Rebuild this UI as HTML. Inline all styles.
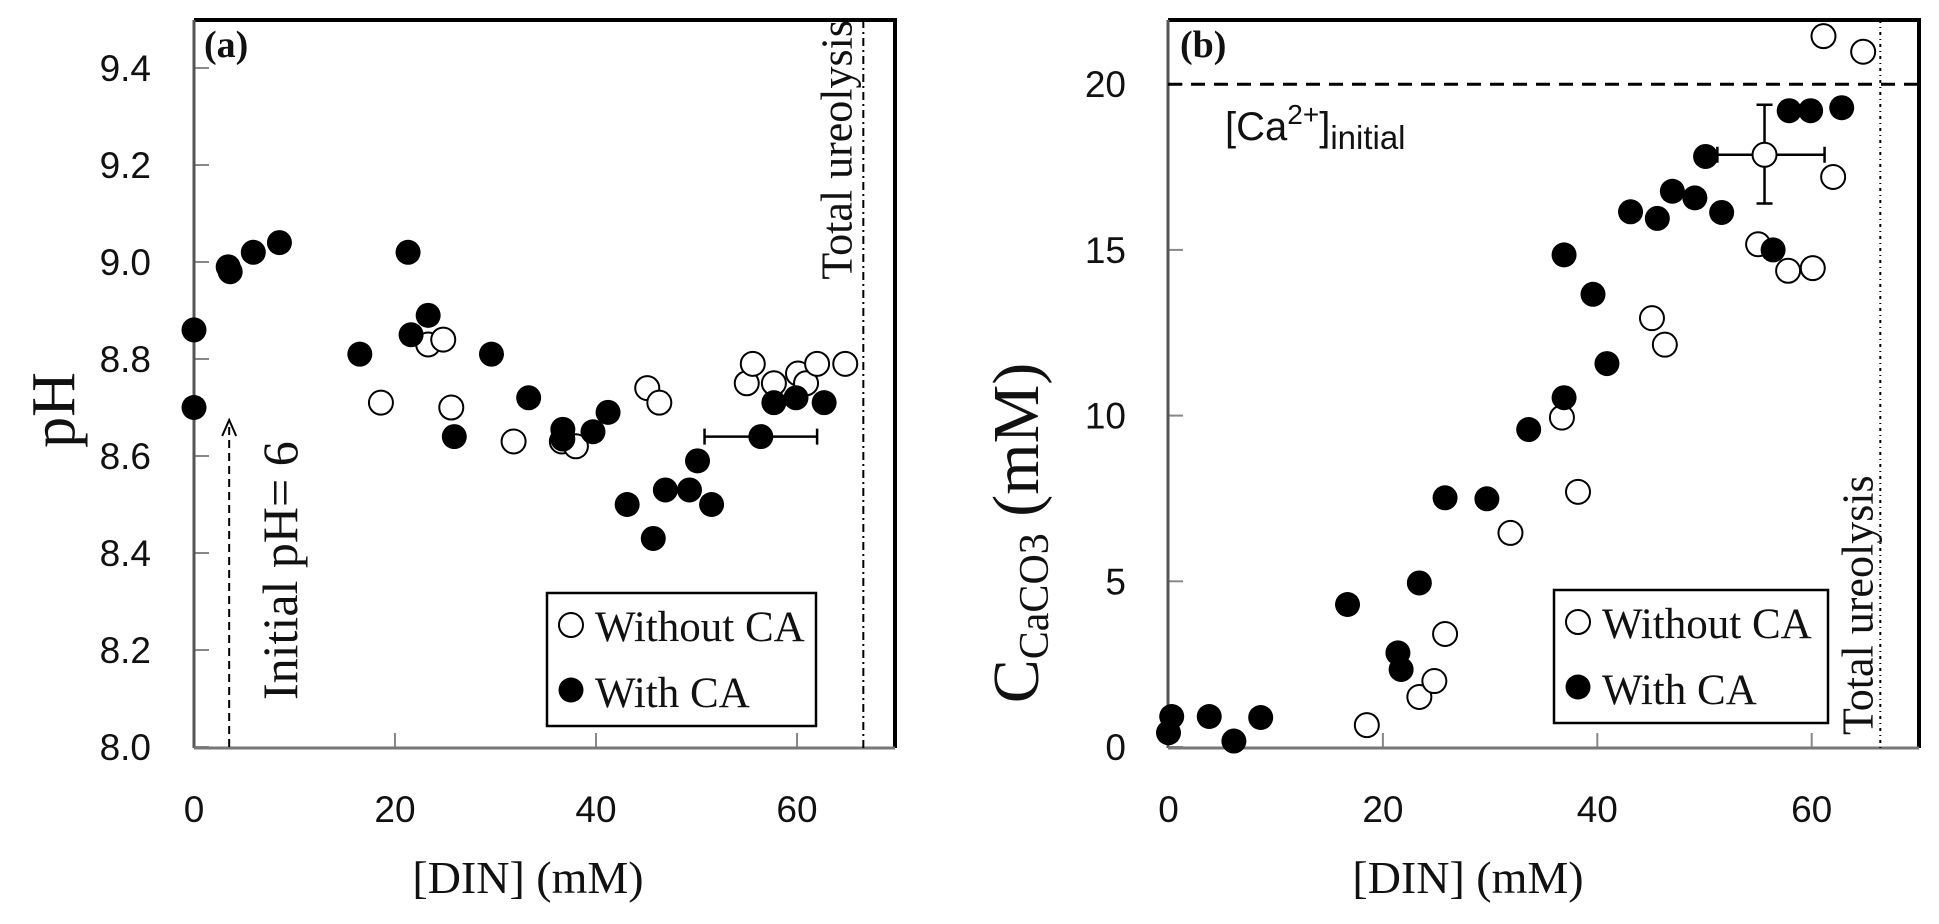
<!DOCTYPE html>
<html><head><meta charset="utf-8">
<style>
html,body{margin:0;padding:0;background:#fff;}
svg{display:block;}
.tick{font-family:"Liberation Sans",sans-serif;font-size:37px;fill:#111;}
.serif{font-family:"Liberation Serif",serif;fill:#111;}
</style></head>
<body>
<svg id="chart" width="1939" height="924" viewBox="0 0 1939 924" xmlns="http://www.w3.org/2000/svg">
<g id="pa"></g>
<g id="pb"></g>
</svg>
<script>
// Panel (a) data: pH vs DIN
const aWithX = [0,0,3.4,3.6,5.9,8.5,16.5,21.3,21.6,23.3,25.9,29.6,33.3,36.7,36.7,39.7,41.2,43.1,45.7,46.9,49.3,50.1,51.5,56.4,57.7,59.9,62.7];
const aWithY = [8.70,8.86,8.99,8.98,9.02,9.04,8.81,9.02,8.85,8.89,8.64,8.81,8.72,8.655,8.635,8.65,8.69,8.50,8.43,8.53,8.53,8.59,8.50,8.64,8.71,8.72,8.71];
const aWithoutX = [18.6,23.3,24.8,25.6,31.8,36.6,38.0,45.1,46.3,55.0,55.6,57.7,60.1,60.9,62.0,64.8];
const aWithoutY = [8.71,8.83,8.84,8.70,8.63,8.63,8.62,8.74,8.71,8.75,8.79,8.75,8.77,8.75,8.79,8.79];
const aXTicks = [0,20,40,60];
const aYTicks = [8.0,8.2,8.4,8.6,8.8,9.0,9.2,9.4];
const aErr = [50.8,62.0,8.64];
// Panel (b) data: CaCO3 vs DIN
const bWithX = [0,0.3,3.8,6.1,8.6,16.7,21.4,21.7,23.4,25.8,29.7,33.6,36.9,36.9,39.6,40.9,43.1,45.6,47.0,49.1,50.1,51.6,56.4,57.9,59.9,62.8];
const bWithY = [0.43,0.92,0.92,0.18,0.89,4.3,2.84,2.34,4.95,7.52,7.49,9.58,14.85,10.54,13.66,11.57,16.15,15.95,16.77,16.57,17.82,16.13,15.0,19.2,19.2,19.29];
const bWithoutX = [18.5,23.4,24.8,25.8,31.9,36.7,38.2,45.1,46.3,55.0,55.6,57.8,60.1,61.1,62.0,64.8];
const bWithoutY = [0.66,1.51,1.99,3.41,6.46,9.94,7.70,12.94,12.14,15.17,17.87,14.37,14.45,21.45,17.2,20.98];
const bXTicks = [0,20,40,60];
const bYTicks = [0,5,10,15,20];
const bErrX = [51.2,61.2,55.6,17.87];
const bErrY = [16.40,19.38];

const NS="http://www.w3.org/2000/svg";
function mk(parent,tag,attrs,text){const e=document.createElementNS(NS,tag);for(const k in attrs)e.setAttribute(k,attrs[k]);if(text!==undefined)e.textContent=text;parent.appendChild(e);return e;}

// ---- Panel A ----
const pa=document.getElementById('pa');
const ax=v=>194+v*10.05, ay=v=>747-(v-8)/0.2*97;
aYTicks.forEach(t=>{
  const l=mk(pa,'line',{x1:194,x2:209,y1:ay(t),y2:ay(t),stroke:'#888','stroke-width':2});
  
  const tx=mk(pa,'text',{x:151,y:ay(t)+13,'text-anchor':'end',class:'tick'},t.toFixed(1));
  
});
aXTicks.forEach(t=>{
  const l=mk(pa,'line',{x1:ax(t),x2:ax(t),y1:747,y2:733,stroke:'#888','stroke-width':2});
  
  const tx=mk(pa,'text',{x:ax(t),y:822,'text-anchor':'middle',class:'tick'},String(t));
  
});
let e;
e=mk(pa,'path',{d:'M194,20 L895,20 L895,748',fill:'none',stroke:'#000','stroke-width':4});
e=mk(pa,'line',{x1:194,y1:20,x2:194,y2:748,stroke:'#555','stroke-width':3});
e=mk(pa,'line',{x1:194,y1:748,x2:895,y2:748,stroke:'#777','stroke-width':3});
e=mk(pa,'line',{x1:ax(66.6),y1:20,x2:ax(66.6),y2:748,stroke:'#000','stroke-width':2,'stroke-dasharray':'8,4,2,4'});
e=mk(pa,'text',{x:0,y:0,class:'serif','font-size':44,transform:`translate(${ax(66.6)-12},20) rotate(-90)`,'text-anchor':'end'},'Total ureolysis');
e=mk(pa,'text',{x:204,y:57,class:'serif','font-size':38,'font-weight':'bold'},'(a)');
// initial pH arrow
e=mk(pa,'line',{x1:ax(3.5),y1:747,x2:ax(3.5),y2:422,stroke:'#000','stroke-width':2,'stroke-dasharray':'8,5'});
e=mk(pa,'path',{d:`M${ax(3.5)-7},436 L${ax(3.5)},420 L${ax(3.5)+7},436`,fill:'none',stroke:'#000','stroke-width':2});
e=mk(pa,'text',{x:0,y:0,class:'serif','font-size':50,transform:`translate(297,700) rotate(-90)`},'Initial pH= 6');
// error bar
e=mk(pa,'path',{d:`M${ax(aErr[0])},${ay(aErr[2])} L${ax(aErr[1])},${ay(aErr[2])} M${ax(aErr[0])},${ay(aErr[2])-8} L${ax(aErr[0])},${ay(aErr[2])+8} M${ax(aErr[1])},${ay(aErr[2])-8} L${ax(aErr[1])},${ay(aErr[2])+8}`,stroke:'#000','stroke-width':2.5,fill:'none'});
aWithoutX.forEach((x,i)=>{const c=mk(pa,'circle',{cx:ax(x),cy:ay(aWithoutY[i]),r:12,fill:'#fff',stroke:'#000','stroke-width':2});
});
aWithX.forEach((x,i)=>{const c=mk(pa,'circle',{cx:ax(x),cy:ay(aWithY[i]),r:12.5,fill:'#000'});
});
e=mk(pa,'rect',{x:547,y:593,width:269,height:133,fill:'#fff',stroke:'#000','stroke-width':2.5});
e=mk(pa,'circle',{cx:571,cy:625,r:12,fill:'#fff',stroke:'#000','stroke-width':2});
e=mk(pa,'text',{x:595,y:641,class:'serif','font-size':43},'Without CA');
e=mk(pa,'circle',{cx:571,cy:690,r:12.5,fill:'#000'});
e=mk(pa,'text',{x:595,y:707,class:'serif','font-size':43},'With CA');
e=mk(pa,'text',{x:0,y:0,class:'serif','font-size':62,transform:'translate(74,410) rotate(-90)','text-anchor':'middle'},'pH');
e=mk(pa,'text',{x:528,y:893,class:'serif','font-size':46,'text-anchor':'middle'},'[DIN] (mM)');

// ---- Panel B ----
const pb=document.getElementById('pb');
const bx=v=>1168.5+v*10.72, by=v=>747-v/5*165.7;
bYTicks.forEach(t=>{
  const l=mk(pb,'line',{x1:1168,x2:1183,y1:by(t),y2:by(t),stroke:'#888','stroke-width':2});
  
  const tx=mk(pb,'text',{x:1126,y:by(t)+13,'text-anchor':'end',class:'tick'},String(t));
  
});
bXTicks.forEach(t=>{
  const l=mk(pb,'line',{x1:bx(t),x2:bx(t),y1:747,y2:733,stroke:'#888','stroke-width':2});
  
  const tx=mk(pb,'text',{x:bx(t),y:822,'text-anchor':'middle',class:'tick'},String(t));
  
});
e=mk(pb,'path',{d:'M1168,20 L1919,20 L1919,748',fill:'none',stroke:'#000','stroke-width':4});
e=mk(pb,'line',{x1:1168,y1:20,x2:1168,y2:748,stroke:'#555','stroke-width':3});
e=mk(pb,'line',{x1:1168,y1:748,x2:1919,y2:748,stroke:'#777','stroke-width':3});
e=mk(pb,'line',{x1:1168,y1:by(20),x2:1919,y2:by(20),stroke:'#000','stroke-width':3,'stroke-dasharray':'14,9'});
e=mk(pb,'text',{x:1225,y:140,'font-family':'"Liberation Sans",sans-serif','font-size':40,fill:'#111'});
e.innerHTML='[Ca<tspan dy="-16" font-size="28">2+</tspan><tspan dy="16">]</tspan><tspan dy="9" font-size="33">initial</tspan>';
e=mk(pb,'line',{x1:bx(66.4),y1:20,x2:bx(66.4),y2:748,stroke:'#000','stroke-width':2,'stroke-dasharray':'3,4,1,4'});
e=mk(pb,'text',{x:0,y:0,class:'serif','font-size':44,transform:`translate(${bx(66.4)-8},735) rotate(-90)`},'Total ureolysis');
e=mk(pb,'text',{x:1180,y:57,class:'serif','font-size':38,'font-weight':'bold'},'(b)');
const ex0=bx(bErrX[0]),ex1=bx(bErrX[1]),exc=bx(bErrX[2]),eyc=by(bErrX[3]),ey0=by(bErrY[0]),ey1=by(bErrY[1]);
e=mk(pb,'path',{d:`M${ex0},${eyc} L${ex1},${eyc} M${ex1},${eyc-8} L${ex1},${eyc+8} M${ex0},${eyc-8} L${ex0},${eyc+8} M${exc},${ey0} L${exc},${ey1} M${exc-8},${ey0} L${exc+8},${ey0} M${exc-8},${ey1} L${exc+8},${ey1}`,stroke:'#000','stroke-width':2.5,fill:'none'});
bWithoutX.forEach((x,i)=>{const c=mk(pb,'circle',{cx:bx(x),cy:by(bWithoutY[i]),r:12,fill:'#fff',stroke:'#000','stroke-width':2});
});
bWithX.forEach((x,i)=>{const c=mk(pb,'circle',{cx:bx(x),cy:by(bWithY[i]),r:12.5,fill:'#000'});
});
e=mk(pb,'rect',{x:1554,y:590,width:274,height:133,fill:'#fff',stroke:'#000','stroke-width':2.5});
e=mk(pb,'circle',{cx:1578,cy:622,r:12,fill:'#fff',stroke:'#000','stroke-width':2});
e=mk(pb,'text',{x:1602,y:638,class:'serif','font-size':43},'Without CA');
e=mk(pb,'circle',{cx:1578,cy:687,r:12.5,fill:'#000'});
e=mk(pb,'text',{x:1602,y:704,class:'serif','font-size':43},'With CA');
e=mk(pb,'text',{x:0,y:0,class:'serif','font-size':66,transform:'translate(1038,533) rotate(-90)','text-anchor':'middle'});
e.innerHTML='C<tspan font-size="42" dy="10">CaCO3</tspan><tspan dy="-10" font-size="66"> (mM)</tspan>';
e=mk(pb,'text',{x:1468,y:893,class:'serif','font-size':46,'text-anchor':'middle'},'[DIN] (mM)');
</script>
</body></html>
